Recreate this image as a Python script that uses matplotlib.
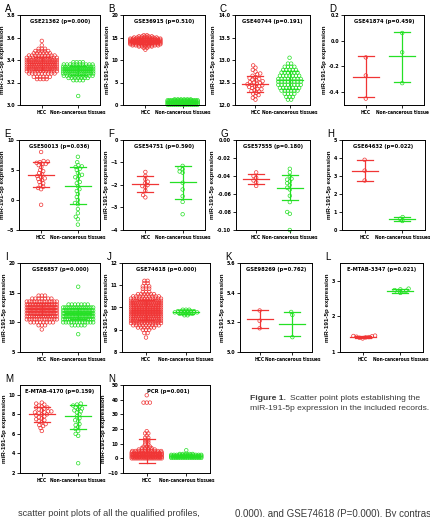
import matplotlib.pyplot as plt
from matplotlib import font_manager as fm
import numpy as np

plt.rcParams['font.family'] = ['Liberation Sans', 'DejaVu Sans']

# pick the narrowest sans available for the condensed GraphPad-style labels
_fonts = fm.fontManager.ttflist
_names = {f.name for f in _fonts}
if 'Liberation Sans Narrow' in _names:
    NARROW = dict(family='Liberation Sans Narrow')
    NSCALE = 1.0
elif any(f.name == 'DejaVu Sans' and 'condensed' in str(f.stretch) for f in _fonts):
    NARROW = dict(family='DejaVu Sans', stretch='condensed')
    NSCALE = 0.9
else:
    NARROW = dict(family='Liberation Sans')
    NSCALE = 0.82

RED = '#f03535'
GREEN = '#25e025'

# ---- values ----
titles = ['GSE21362 (p=0.000)', 'GSE36915 (p=0.510)', 'GSE40744 (p=0.191)', 'GSE41874 (p=0.459)',
          'GSE50013 (p=0.036)', 'GSE54751 (p=0.590)', 'GSE57555 (p=0.180)', 'GSE64632 (p=0.022)',
          'GSE6857 (p=0.000)', 'GSE74618 (p=0.000)', 'GSE98269 (p=0.762)', 'E-MTAB-3347 (p=0.021)',
          'E-MTAB-4170 (p=0.159)', 'PCR (p=0.001)']
letters = list('ABCDEFGHIJKLMN')

# dense groups: row level -> number of points in the row
A_hcc_lv = [3.23, 3.25, 3.28, 3.30, 3.32, 3.34, 3.36, 3.38, 3.40, 3.42, 3.44, 3.46, 3.48, 3.50, 3.53, 3.57]
A_hcc_ct = [4, 6, 9, 12, 14, 16, 18, 16, 14, 11, 9, 6, 5, 3, 1, 1]
A_non_lv = [3.08, 3.22, 3.24, 3.26, 3.28, 3.30, 3.32, 3.34, 3.36, 3.38]
A_non_ct = [1, 4, 7, 10, 14, 16, 16, 15, 10, 4]

B_hcc_lv = [12.3, 12.7, 13.0, 13.25, 13.5, 13.75, 14.0, 14.25, 14.5, 14.75, 15.0, 15.25, 15.5]
B_hcc_ct = [1, 2, 5, 9, 12, 15, 16, 16, 15, 12, 8, 5, 2]
B_non_lv = [0.05, 0.3, 0.55, 0.8, 1.05, 1.25]
B_non_ct = [16, 18, 18, 18, 16, 6]

C_hcc = [12.12, 12.16, 12.2, 12.22, 12.25, 12.27, 12.3, 12.31, 12.33, 12.35, 12.36, 12.38, 12.4,
         12.41, 12.42, 12.44, 12.45, 12.46, 12.47, 12.49, 12.5, 12.51, 12.53, 12.55, 12.56, 12.58,
         12.6, 12.62, 12.65, 12.68, 12.7, 12.74, 12.78, 12.83, 12.88]
C_non_lv = [12.12, 12.18, 12.25, 12.32, 12.38, 12.45, 12.52, 12.58, 12.65, 12.72, 12.78, 12.85, 12.92, 13.05]
C_non_ct = [2, 3, 4, 6, 7, 8, 8, 8, 7, 6, 5, 4, 2, 1]

D_hcc = [-0.13, -0.27, -0.45]
D_non = [0.06, -0.09, -0.33]

E_hcc = [8.0, 6.5, 6.4, 6.3, 6.2, 6.0, 6.0, 5.8, 5.5, 5.0, 4.8, 4.5, 4.3, 4.0, 3.8, 3.6, 3.5,
         3.3, 3.0, 2.8, 2.5, 2.2, 2.0, 1.8, -0.8]
E_non = [7.2, 6.3, 5.8, 5.6, 5.5, 5.2, 5.0, 4.5, 4.2, 4.0, 3.8, 3.5, 3.0, 2.8, 2.3, 1.8, 1.5,
         1.0, 0.5, 0.0, -0.5, -0.7, -1.5, -2.2, -2.8, -3.2, -4.1]

F_hcc = [-1.42, -1.6, -1.75, -1.85, -1.92, -2.0, -2.05, -2.1, -2.25, -2.45, -2.55]
F_non = [-1.15, -1.25, -1.3, -1.4, -1.45, -1.9, -2.2, -2.5, -2.75, -3.3]

G_hcc = [-0.036, -0.040, -0.042, -0.045, -0.047, -0.051]
G_non = [-0.032, -0.036, -0.040, -0.043, -0.044, -0.046, -0.048, -0.050, -0.053, -0.055,
         -0.062, -0.069, -0.080, -0.082, -0.100]

H_hcc = [3.9, 3.3, 2.75]
H_non = [0.72, 0.62, 0.5]

I_hcc_lv = [8.8, 9.5, 10.0, 10.5, 11.0, 11.5, 12.0, 12.5, 13.0, 13.5, 14.0, 14.5]
I_hcc_ct = [1, 3, 8, 13, 18, 22, 24, 24, 20, 13, 7, 3]
I_non_lv = [8.0, 9.5, 10.0, 10.5, 11.0, 11.5, 12.0, 12.5, 13.0, 16.0]
I_non_ct = [1, 5, 12, 18, 22, 24, 22, 16, 7, 1]

J_hcc_lv = [8.65, 8.85, 9.0, 9.1, 9.2, 9.3, 9.4, 9.5, 9.6, 9.7, 9.8, 9.9, 10.0, 10.1, 10.2,
            10.3, 10.4, 10.5, 10.6, 10.7, 10.85, 10.95, 11.1, 11.2]
J_hcc_ct = [1, 2, 3, 6, 9, 12, 15, 17, 19, 20, 20, 20, 20, 19, 17, 15, 12, 9, 6, 3, 3, 3, 2, 2]
J_non_lv = [9.65, 9.72, 9.78, 9.84, 9.9]
J_non_ct = [2, 5, 8, 6, 3]

K_hcc = [5.28, 5.21, 5.16]
K_non = [5.27, 5.25, 5.10]

L_hcc = [1.38, 1.40, 1.41, 1.42, 1.43, 1.44, 1.45, 1.46]
L_non = [2.66, 2.69, 2.71, 2.72, 2.74, 2.76, 2.78]

M_hcc = [9.2, 9.1, 9.0, 8.9, 8.8, 8.7, 8.7, 8.6, 8.5, 8.4, 8.3, 8.3, 8.2, 8.2, 8.1, 8.0, 8.0,
         7.9, 7.8, 7.7, 7.6, 7.5, 7.4, 7.3, 7.2, 7.0, 6.9, 6.8, 6.6, 6.3]
M_non = [9.1, 9.0, 8.9, 8.8, 8.7, 8.6, 8.5, 8.4, 8.3, 8.2, 8.0, 7.8, 7.6, 7.4, 7.3, 7.0, 6.9,
         6.7, 6.5, 6.3, 6.0, 5.8, 3.0]

N_hcc_lv = [0.0, 1.0, 2.0, 3.0, 4.0, 5.0, 6.0, 7.0, 8.0, 9.5, 11, 12.5, 14, 15.5, 17, 18.5, 38, 43]
N_hcc_ct = [18, 22, 22, 18, 14, 10, 6, 4, 3, 2, 2, 2, 2, 1, 2, 1, 3, 1]
N_non_lv = [0.3, 1.0, 1.7, 2.4, 3.0, 5.5]
N_non_ct = [14, 16, 16, 12, 5, 1]

# mean, upper SD, lower SD per group  (HCC, non-cancerous)
bars = {
    'A': [(3.37, 3.43, 3.31), (3.31, 3.35, 3.27)],
    'B': [(14.2, 14.9, 13.5), (0.6, 1.0, 0.2)],
    'C': [(12.47, 12.65, 12.30), (12.55, 12.76, 12.35)],
    'D': [(-0.28, -0.12, -0.44), (-0.12, 0.07, -0.32)],
    'E': [(4.2, 6.3, 2.1), (2.3, 5.5, -0.6)],
    'F': [(-1.97, -1.62, -2.33), (-1.88, -1.15, -2.62)],
    'G': [(-0.043, -0.038, -0.049), (-0.053, -0.039, -0.067)],
    'H': [(3.3, 3.87, 2.73), (0.62, 0.73, 0.51)],
    'I': [(12.2, 13.2, 11.2), (11.5, 12.4, 10.6)],
    'J': [(9.9, 10.35, 9.45), (9.8, 9.87, 9.73)],
    'K': [(5.22, 5.28, 5.16), (5.19, 5.27, 5.11)],
    'L': [(1.43, 1.46, 1.40), (2.72, 2.77, 2.67)],
    'M': [(8.0, 8.7, 7.25), (7.8, 9.0, 6.5)],
    'N': [(4.5, 13.5, -3.5), (1.5, 2.3, 0.7)],
}

yticks = {
    'A': ([3.0, 3.2, 3.4, 3.6, 3.8], ['3.0', '3.2', '3.4', '3.6', '3.8']),
    'B': ([0, 5, 10, 15, 20], None),
    'C': ([12.0, 12.5, 13.0, 13.5, 14.0], ['12.0', '12.5', '13.0', '13.5', '14.0']),
    'D': ([-0.4, -0.2, 0.0, 0.2], ['-0.4', '-0.2', '0.0', '0.2']),
    'E': ([-5, 0, 5, 10], None),
    'F': ([-4, -3, -2, -1, 0], None),
    'G': ([-0.10, -0.08, -0.06, -0.04, -0.02, 0.0], ['-0.10', '-0.08', '-0.06', '-0.04', '-0.02', '0.00']),
    'H': ([0, 1, 2, 3, 4, 5], None),
    'I': ([5, 10, 15, 20], None),
    'J': ([8, 9, 10, 11, 12], None),
    'K': ([5.0, 5.2, 5.4, 5.6], ['5.0', '5.2', '5.4', '5.6']),
    'L': ([1, 2, 3], None),
    'M': ([2, 4, 6, 8, 10], None),
    'N': ([-10, 0, 10, 20, 30, 40, 50], None),
}
ylims = {'A': (3.0, 3.8), 'B': (0, 20), 'C': (12.0, 14.0), 'D': (-0.5, 0.2), 'E': (-5, 10),
         'F': (-4, 0), 'G': (-0.10, 0.0), 'H': (0, 5), 'I': (5, 20), 'J': (8, 12),
         'K': (5.0, 5.6), 'L': (1, 3.5), 'M': (2, 11), 'N': (-10, 50)}

groups = {
    'A': (('rows', A_hcc_lv, A_hcc_ct), ('rows', A_non_lv, A_non_ct)),
    'B': (('rows', B_hcc_lv, B_hcc_ct), ('rows', B_non_lv, B_non_ct)),
    'C': (('vals', C_hcc), ('rows', C_non_lv, C_non_ct)),
    'D': (('vals', D_hcc), ('vals', D_non)),
    'E': (('vals', E_hcc), ('vals', E_non)),
    'F': (('vals', F_hcc), ('vals', F_non)),
    'G': (('vals', G_hcc), ('vals', G_non)),
    'H': (('vals', H_hcc), ('vals', H_non)),
    'I': (('rows', I_hcc_lv, I_hcc_ct), ('rows', I_non_lv, I_non_ct)),
    'J': (('rows', J_hcc_lv, J_hcc_ct), ('rows', J_non_lv, J_non_ct)),
    'K': (('vals', K_hcc), ('vals', K_non)),
    'L': (('vals', L_hcc), ('vals', L_non)),
    'M': (('vals', M_hcc), ('vals', M_non)),
    'N': (('rows', N_hcc_lv, N_hcc_ct), ('rows', N_non_lv, N_non_ct)),
}

# panel boxes in pixels: left, right, top, bottom
W, H = 430, 517
boxes = {
    'A': (20, 100, 15, 105), 'B': (123, 205, 15, 105), 'C': (235, 310, 15, 105), 'D': (344, 424, 15, 105),
    'E': (19, 100, 140, 230), 'F': (123, 205, 140, 230), 'G': (236, 310, 140, 230), 'H': (342, 425, 140, 230),
    'I': (20, 100, 263, 352), 'J': (122, 210, 263, 352), 'K': (240, 312, 263, 352), 'L': (340, 423, 263, 352),
    'M': (20, 100, 385, 473), 'N': (123, 210, 385, 473),
}

XLIM = (0.4, 2.6)
D_PX = 3.2  # marker diameter in pixels


def swarm(vals, ylo, yhi, h_px, w_px):
    ypx = (np.asarray(vals, float) - ylo) / (yhi - ylo) * h_px
    placed, offs = [], np.zeros(len(ypx))
    for i in np.argsort(ypx):
        y = ypx[i]
        bad = []
        for px, py in placed:
            dy = abs(py - y)
            if dy < D_PX:
                dx = np.sqrt(D_PX ** 2 - dy ** 2)
                bad.append((px - dx, px + dx))
        cands = sorted([0.0] + [e for iv in bad for e in iv], key=abs)
        x = 0.0
        for c in cands:
            if all(not (a + 1e-6 < c < b - 1e-6) for a, b in bad):
                x = c
                break
        placed.append((x, y))
        offs[i] = x
    return offs / w_px * (XLIM[1] - XLIM[0])


def rows(levels, counts, w_px, max_px=30):
    xs, ys = [], []
    for lv, n in zip(levels, counts):
        st = D_PX if n <= 1 else min(D_PX, max_px / (n - 1))
        off = (np.arange(n) - (n - 1) / 2) * st
        xs += list(off / w_px * (XLIM[1] - XLIM[0]))
        ys += [lv] * n
    return np.array(xs), np.array(ys)


fig = plt.figure(figsize=(4.3, 5.17), dpi=100)

for k, key in enumerate(letters):
    l, r, t, b = boxes[key]
    ax = fig.add_axes([l / W, 1 - b / H, (r - l) / W, (b - t) / H])
    ylo, yhi = ylims[key]
    for gi, (g, col) in enumerate(zip(groups[key], [RED, GREEN])):
        cx = gi + 1
        if g[0] == 'rows':
            dx, ys = rows(g[1], g[2], r - l)
        else:
            ys = np.asarray(g[1], float)
            dx = swarm(ys, ylo, yhi, b - t, r - l)
        ax.scatter(cx + dx, ys, s=6.5, facecolors='none', edgecolors=col, linewidths=0.5, zorder=2, clip_on=False)
        m, hi, lo = bars[key][gi]
        mw = 13 / (r - l) * (XLIM[1] - XLIM[0])
        cw = 8 / (r - l) * (XLIM[1] - XLIM[0])
        ax.plot([cx - mw, cx + mw], [m, m], color=col, lw=0.9, zorder=3)
        ax.plot([cx - cw, cx + cw], [hi, hi], color=col, lw=0.9, zorder=3)
        ax.plot([cx - cw, cx + cw], [lo, lo], color=col, lw=0.9, zorder=3)
        ax.plot([cx, cx], [lo, hi], color=col, lw=0.9, zorder=3)

    ax.set_xlim(*XLIM)
    ax.set_ylim(ylo, yhi)
    tk, tl = yticks[key]
    ax.set_yticks(tk)
    if tl is not None:
        ax.set_yticklabels(tl)
    ax.set_xticks([1, 2])
    ax.set_xticklabels(['HCC', 'Non-cancerous tissue' if key == 'D' else 'Non-cancerous tissues'])
    ax.tick_params(axis='both', length=2, width=0.6, pad=1.5, direction='out')
    for lab in ax.get_xticklabels():
        lab.set_fontsize(3.9 * NSCALE)
    for lab in ax.get_yticklabels():
        lab.set_fontsize(4.3 * NSCALE)
    for lab in ax.get_xticklabels() + ax.get_yticklabels():
        lab.set_fontweight('bold')
        lab.set_family(NARROW['family'])
        if 'stretch' in NARROW:
            lab.set_stretch(NARROW['stretch'])
    for sp in ax.spines.values():
        sp.set_linewidth(0.7)
    ax.set_ylabel('miR-191-5p expression', fontsize=4.5, fontweight='bold', labelpad=1.2)
    tx = 0.52 if key == 'N' else 0.5
    ax.text(tx, 0.93, titles[k], transform=ax.transAxes, ha='center', va='center',
            fontsize=4.6 * NSCALE, fontweight='bold', **NARROW)
    fig.text((l - 15) / W, 1 - (t - 6) / H, key, fontsize=7, ha='left', va='center')

# caption and clipped body text
CAP = '#3a3a3a'
fig.text(250 / W, 1 - 398 / H, 'Figure 1.', fontsize=6.1, fontweight='bold', color=CAP,
         ha='left', va='center')
fig.text(290 / W, 1 - 398 / H, 'Scatter point plots establishing the', fontsize=6.1, color=CAP,
         ha='left', va='center')
fig.text(250 / W, 1 - 409 / H, 'miR-191-5p expression in the included records.', fontsize=6.1,
         color=CAP, ha='left', va='center')
fig.text(18 / W, 1 - 514 / H, 'scatter point plots of all the qualified profiles,', fontsize=6.6,
         color=CAP, ha='left', va='center')
fig.text(235 / W, 1 - 514 / H, '0.000), and GSE74618 (P=0.000). By contrast,', fontsize=7,
         color=CAP, ha='left', va='center')

fig.savefig('out.png', dpi=100)
